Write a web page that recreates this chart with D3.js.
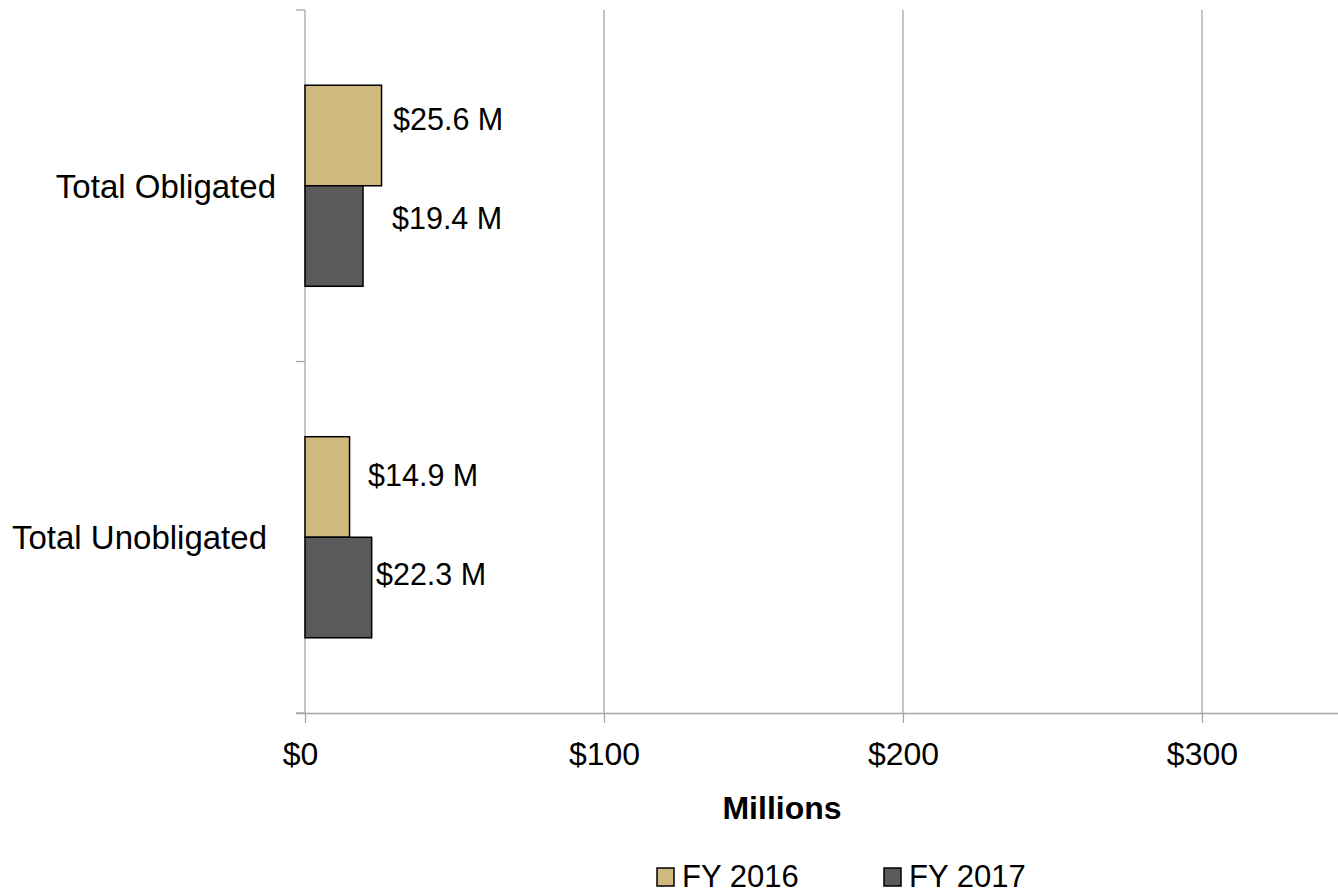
<!DOCTYPE html>
<html>
<head>
<meta charset="utf-8">
<script src="https://cdn.jsdelivr.net/npm/d3@7"></script>
<style>
  html, body { margin: 0; padding: 0; background: #fff; }
  svg { display: block; font-family: "Liberation Sans", Arial, Helvetica, sans-serif; }
</style>
</head>
<body>
<svg id="chart" width="1338" height="894"></svg>
<script>
// ---- data ----
const categories = ["Total Obligated", "Total Unobligated"];
const seriesNames = ["FY 2016", "FY 2017"];
const fy2016 = [25.6, 14.9];
const fy2017 = [19.4, 22.3];
const valueLabels2016 = ["$25.6 M", "$14.9 M"];
const valueLabels2017 = ["$19.4 M", "$22.3 M"];
const xTicks = [0, 100, 200, 300];
const xTickLabels = ["$0", "$100", "$200", "$300"];
const axisTitle = "Millions";

// ---- layout (not data) ----
const colors = { "FY 2016": "#CFB97E", "FY 2017": "#5A5A5A" };
// manual nudges of the value labels (dx from bar end, dy from bar centre), as in the original
const labelNudge2016 = [[11.5, -16.5], [18.5, -12]];
const labelNudge2017 = [[29, -18], [4.3, -13]];
const catLabelDx = [-29, -38];

const svg = d3.select("#chart");
const plot = { left: 305, right: 1338, top: 10, bottom: 713 };

const x = d3.scaleLinear().domain([0, 345.5]).range([plot.left, plot.right]);
const y = d3.scaleBand().domain(categories).range([plot.top, plot.bottom])
  .paddingInner(0.428).paddingOuter(0.214);
const ySub = d3.scaleBand().domain(seriesNames).range([0, y.bandwidth()]);

const gridColor = "#A6A6A6";

// gridlines
svg.append("g").selectAll("line").data(xTicks.filter(d => d > 0)).join("line")
  .attr("x1", d => x(d)).attr("x2", d => x(d))
  .attr("y1", plot.top).attr("y2", plot.bottom)
  .attr("stroke", gridColor).attr("stroke-width", 1.3);

// x axis
const xAxis = d3.axisBottom(x).tickValues(xTicks).tickFormat((d, i) => xTickLabels[i])
  .tickSizeInner(10).tickSizeOuter(0).tickPadding(19);
const gx = svg.append("g").attr("transform", `translate(0,${plot.bottom})`).call(xAxis);
gx.select(".domain").attr("d", `M${plot.left - 9},0.5H${plot.right}`).attr("stroke", gridColor).attr("stroke-width", 1.3);
gx.selectAll(".tick line").attr("stroke", gridColor).attr("stroke-width", 1.3);
gx.selectAll(".tick text").attr("font-size", 32).attr("fill", "#000")
  .attr("font-family", "'Liberation Sans', Arial, sans-serif")
  .attr("dx", (d, i) => i === 0 ? -5 : 0).attr("dy", "0.72em");

// y axis (boundary ticks at band edges)
svg.append("line").attr("x1", plot.left).attr("x2", plot.left)
  .attr("y1", plot.top).attr("y2", plot.bottom)
  .attr("stroke", gridColor).attr("stroke-width", 1.3);
const boundaries = [plot.top, (y(categories[0]) + y.bandwidth() + y(categories[1])) / 2, plot.bottom];
svg.append("g").selectAll("line").data(boundaries).join("line")
  .attr("x1", plot.left - 9).attr("x2", plot.left)
  .attr("y1", d => d).attr("y2", d => d)
  .attr("stroke", gridColor).attr("stroke-width", 1.3);

// category labels
svg.append("g").selectAll("text").data(categories).join("text")
  .attr("x", (d, i) => plot.left + catLabelDx[i])
  .attr("y", d => y(d) + y.bandwidth() / 2)
  .attr("dy", "0.36em")
  .attr("text-anchor", "end")
  .attr("font-size", 33).attr("fill", "#000")
  .text(d => d);

// bars
const rows = [];
categories.forEach((c, i) => {
  rows.push({ cat: c, series: "FY 2016", value: fy2016[i], label: valueLabels2016[i], nudge: labelNudge2016[i] });
  rows.push({ cat: c, series: "FY 2017", value: fy2017[i], label: valueLabels2017[i], nudge: labelNudge2017[i] });
});

svg.append("g").selectAll("rect").data(rows).join("rect")
  .attr("x", x(0))
  .attr("y", d => y(d.cat) + ySub(d.series))
  .attr("width", d => x(d.value) - x(0))
  .attr("height", ySub.bandwidth())
  .attr("fill", d => colors[d.series])
  .attr("stroke", "#000").attr("stroke-width", 1.5);

// value labels
svg.append("g").selectAll("text").data(rows).join("text")
  .attr("x", d => x(d.value) + d.nudge[0])
  .attr("y", d => y(d.cat) + ySub(d.series) + ySub.bandwidth() / 2 + d.nudge[1])
  .attr("dy", "0.36em")
  .attr("font-size", 30.5).attr("fill", "#000")
  .text(d => d.label);

// axis title
svg.append("text")
  .attr("x", 782).attr("y", 819)
  .attr("text-anchor", "middle")
  .attr("font-size", 32).attr("font-weight", "bold").attr("fill", "#000")
  .text(axisTitle);

// legend
const legendX = [657, 884];
const leg = svg.append("g").selectAll("g").data(seriesNames).join("g")
  .attr("transform", (d, i) => `translate(${legendX[i]},868)`);
leg.append("rect").attr("width", 17).attr("height", 18)
  .attr("fill", d => colors[d]).attr("stroke", "#000").attr("stroke-width", 1.5);
leg.append("text").attr("x", 25).attr("y", 19)
  .attr("font-size", 31).attr("fill", "#000").text(d => d);
</script>
</body>
</html>
